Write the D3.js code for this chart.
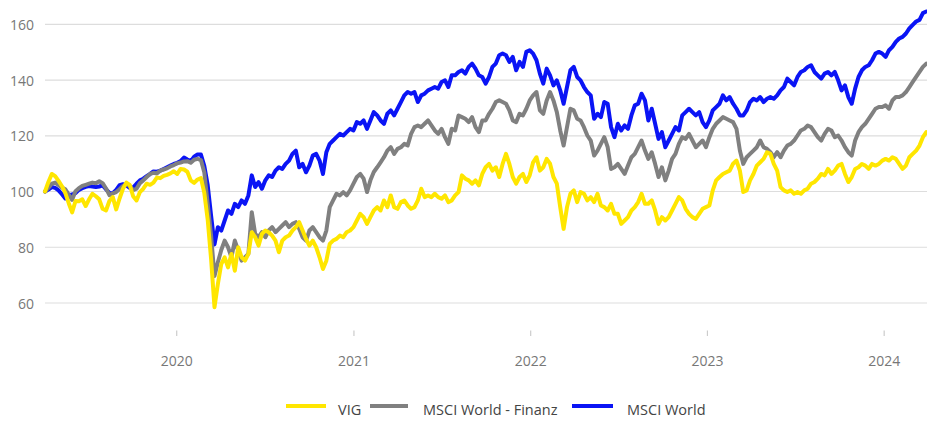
<!DOCTYPE html>
<html>
<head>
<meta charset="utf-8">
<script src="https://cdn.jsdelivr.net/npm/d3@7"></script>
<style>
  html, body { margin: 0; padding: 0; background: #fff; }
  svg { display: block; font-family: "Open Sans", sans-serif; }
</style>
</head>
<body>
<svg id="chart" width="927" height="421"></svg>
<script>
// Weekly observations, indexed from 2019-04-04 (index = 100)
const firstWeek = "2019-04-04";
const seriesNames = ["VIG", "MSCI World - Finanz", "MSCI World"];
const seriesColors = ["#ffe600", "#808080", "#0a14f5"];
const yTicks = [60, 80, 100, 120, 140, 160];
const xTickYears = [2020, 2021, 2022, 2023, 2024];

const vig = [
  100, 103.4, 106.3, 105.5, 103.8, 101.9, 99.4, 95.8, 92.5, 96.6,
  96.5, 97.2, 94.8, 97.2, 99.2, 98.3, 97.2, 93.8, 93.2, 96.6,
  98, 93.6, 97.5, 101, 103.2, 102.4, 98.3, 96.8, 99.8, 101,
  102.8, 102.4, 103.2, 105, 104.8, 105.6, 106, 106.5, 107.3, 106.3,
  108.1, 107.9, 107.1, 104, 103.1, 104.3, 104.8, 99.5, 89.9, 75.8,
  58.5, 66.8,
  74, 76.4, 72.8, 77.6, 71.6, 80, 76.4, 75.2, 77.6,
  85.4, 83.6, 80.6, 84.8, 86, 85.4, 84.2, 82.4, 78.2, 82.4, 83.6, 84.2, 86, 87.2, 89, 86, 83, 80.6, 82.4, 80,
  76.4, 72.2, 75.2, 81.2, 82.4, 83, 84.2, 83.6, 85.4, 86, 87.2, 89.6, 92, 90.8, 88.4, 90.8, 93.2, 94.4, 93.2, 96.8,
  94.4, 98.6, 94.4, 93.8, 96.2, 96.8,
  95, 93.8, 94.4, 96.8, 101, 98, 98.6, 98, 99.2, 98, 97.4, 98.6,
  96.2, 96.8, 98.6, 99.8, 105.8, 104.6, 104, 102.8, 104, 102.2, 106.3, 108.7, 109.9, 107.5, 108.7, 105.2, 109.9, 113.5,
  109.9, 105.2, 102.8, 105.2, 106.3, 103.4, 105.8, 110.5, 112.3, 107.5, 108.7, 111.7, 110, 105.2, 102.8, 94.4, 86.6,
  94.4, 99.2, 100.4, 96.2, 99.8, 99.2,
  96.8, 98, 96.2, 99.2, 95, 94.4, 93.2, 95.6, 92, 92, 88.4, 89.6, 90.8, 93.2, 94.4, 96.2, 99.2, 95.6,
  95.6, 96.8, 93.2, 88.4, 90.8, 89.6, 90.8, 93.2, 95.6, 98, 96.8, 93.8, 92, 90.8, 90.2, 92, 93.8, 94.4, 95, 100.4,
  104, 105.2, 106.3, 106.9, 107.5, 110, 111.1, 107.5, 99.8, 100.4, 104, 106.3, 109.3, 110.5, 111.7,
  114.1, 113.5, 109.9, 107.5, 101.6, 100.4, 99.8, 100.4, 99.2, 99.8, 99.2, 100.4, 101, 102.8, 103.4, 104.6, 106.3,
  105.8, 108.1, 106.3, 107.5, 109.3, 109.9, 106.3,
  103.4, 105.2, 108.1, 108.7, 109.9, 109.3, 108.1, 109.9, 109.3, 109.9, 111.1, 111.7, 111.1, 112.3, 111.7, 109.9,
  108.1, 109.3, 112.3, 113.5, 114.7, 116.5, 119.5, 121.3
];

const msciFinanz = [
  100, 101.3, 102.8, 103.2, 102.3, 101.4, 100.8, 98.9, 97, 100.1,
  101.2, 102, 102.4, 102.8, 103.2, 103, 103.7, 103, 101.1, 98.7,
  99.3, 99.8, 100.8, 102, 102.6, 102, 100.5, 101, 103, 104,
  105.2, 106.3, 106.7, 106.5, 107.5, 107.9, 108.3, 109, 109.5, 110.1,
  110.4, 110.8, 110.9, 110.3, 111.4, 111.7, 111.3, 106.8, 95.6, 84.1,
  69.7, 74.6,
  79, 82.4, 80, 76.4, 82.4, 78.8, 75.2, 76.4, 77.6,
  92.6, 84.8, 83.6, 85.4, 83.6, 86, 87.2, 85.4, 86.6, 87.8, 89, 87.2, 88.4, 89, 86.6, 83.6, 82.4, 86, 87.2, 85.4,
  83.6, 82.4, 86, 94.4, 96.8, 99.2, 98.6, 99.8, 98.6, 100.4, 102.8, 105.2, 106.3, 104.6, 99.8, 104, 107, 108.7, 110.5,
  112.3, 114.7, 115.9, 113.5, 115.3, 115.9, 117.1,
  116.5, 120.7, 123.1, 123.7, 123.1, 124.3, 125.5, 123.7, 121.9, 120.7, 122.5, 119.5,
  117.1, 122.5, 121.9, 127.3, 126.7, 126.1, 124.9, 126.7, 123.1, 121.3, 125.5, 125.5, 127.9, 129.7, 132.1, 132.7,
  132.1, 131.5, 129.1, 125.5, 124.9, 127.9, 127.3, 129.7, 132.7, 134.5, 135.7, 129.1, 127.9, 132.7, 135.7, 132.7,
  128.5, 121.9, 116.5, 123.1, 129.7, 129.1, 126.1, 125.5, 123.1,
  120.1, 118.3, 112.9, 114.7, 117.1, 119.5, 115.9, 108.1, 108.7, 109.9, 108.1, 106.3, 109.3, 112.3, 113.5, 115.9,
  118.3, 114.7,
  111.7, 114.1, 109.9, 105.2, 108.7, 104, 107.5, 111.7, 113.5, 117.1, 119.5, 118.9, 120.7, 118.3, 115.9, 117.1,
  118.3, 115.9, 119.5, 122.5, 124.3, 125.5, 126.7, 126.1, 125.5, 124.9, 122.5, 114.7, 109.9, 112.3, 113.5, 114.7,
  115.9, 118.3, 115.9,
  115.3, 114.1, 112.3, 114.1, 112.3, 114.7, 116.5, 117.1, 118.3, 120.1, 121.9, 122.5, 123.7, 123.1, 121.3, 119.5,
  118.3, 120.7, 122.5, 121.9, 119.5, 120.1, 118.3, 115.9,
  114.1, 112.9, 118.3, 121.3, 123.1, 124.3, 126.1, 127.9, 129.7, 130.3, 130.3, 130.9, 129.7, 132.7, 133.9, 133.9,
  134.5, 135.7, 137.5, 139.3, 141.1, 142.9, 144.7, 145.9
];

const msciWorld = [
  100, 100.7, 101.6, 101.3, 100.4, 99, 97.5, 98.7, 98.9, 99.4,
  100.6, 101.2, 101.7, 102, 101.8, 101.6, 101.8, 102.2, 100.8, 99.5,
  99.4, 100.6, 102.3, 102.6, 102.2, 101.3, 101.4, 102.8, 104, 104.6,
  105.5, 106.3, 107.2, 107.1, 107.5, 108.1, 108.7, 109.3, 109.9, 110.3,
  110.9, 112.2, 111.5, 110.9, 112.5, 113.3, 113.3, 109.1, 102.3, 91.3,
  81, 87.2,
  86, 89.6, 93.2, 92, 95.6, 94.4, 96.8, 95.6, 98.6,
  105.8, 101.6, 103.4, 101, 104, 105.8, 105.2, 107.5, 108.7, 108.1, 109.9, 111.1, 113.5, 114.7, 108.7, 109.9,
  106.9, 109.3, 112.9, 113.5, 111.1, 106.3, 114.1, 117.1, 118.3, 119.5, 120.7, 120.1, 121.3, 122.5, 121.9, 124.9,
  124.3, 125.5, 122.5, 125.5, 128.5, 127.3, 125.5, 124.3, 127.9, 129.1, 127.3, 129.7, 132.1, 134.5,
  135.7, 135.1, 135.7, 132.1, 134.5, 135.1, 136.3, 136.9, 137.5, 136.9, 139.3, 139.9,
  137.5, 141.7, 141.7, 142.9, 143.5, 142.3, 144.7, 145.9, 144.1, 141.7, 141.1, 138.7, 141.1, 144.7, 145.9, 148.9,
  149.5, 148.9, 146.5, 148.3, 143.5, 146.5, 144.7, 150.1, 150.7, 149.5, 147.1, 142.3, 138.7, 144.1, 141.7, 138.1,
  139.9, 136.3, 131.5, 137.5, 143.5, 144.7, 141.1, 139.9, 137.5,
  135.7, 134.5, 126.1, 127.9, 126.7, 132.1, 131.5, 123.1, 119.5, 124.3, 121.9, 123.7, 122.5, 127.3, 130.9, 131.5,
  135.1, 132.7,
  125.5, 129.7, 124.3, 118.9, 121.3, 115.9, 118.3, 120.7, 123.1, 121.9, 127.3, 128.5, 129.7, 128.5, 127.3, 128.5,
  124.9, 123.1, 125.5, 129.1, 130.3, 131.5, 134.5, 132.7, 133.9, 131.5, 129.7, 127.3, 127.3, 129.1, 132.1, 133.3,
  132.7, 133.9, 132.1,
  133.3, 133.9, 133.3, 134.5, 136.3, 137.5, 140.5, 139.3, 138.1, 141.1, 142.9, 143.5, 144.7, 145.3, 142.9, 141.7,
  140.5, 142.3, 142.9, 141.7, 142.9, 139.9, 136.3, 138.1,
  133.9, 131.5, 136.9, 141.1, 143.5, 144.7, 145.3, 147.1, 149.5, 150.1, 149.5, 148.3, 150.7, 151.9, 153.7, 154.9,
  155.5, 156.7, 158.5, 159.8, 161, 161.6, 164, 164.6
];

const seriesValues = [vig, msciFinanz, msciWorld];

(function draw() {
  const svg = d3.select("#chart");
  const parse = d3.timeParse("%Y-%m-%d");
  const start = parse(firstWeek);
  const dates = vig.map((_, i) => d3.timeDay.offset(start, 7 * i));

  const plotLeft = 45, plotRight = 926.3, plotTop = 24.3, plotBottom = 303;
  const x = d3.scaleTime().domain([dates[0], dates[dates.length - 1]]).range([plotLeft, plotRight]);
  const y = d3.scaleLinear().domain([60, 160]).range([plotBottom, plotTop]);

  // gridlines
  svg.append("g").selectAll("line").data(yTicks).join("line")
    .attr("x1", plotLeft).attr("x2", 927)
    .attr("y1", d => y(d)).attr("y2", d => y(d))
    .attr("stroke", "#dddddd").attr("stroke-width", 1.2);

  // y labels
  svg.append("g").selectAll("text").data(yTicks).join("text")
    .attr("x", 34).attr("y", d => y(d))
    .attr("text-anchor", "end").attr("dominant-baseline", "central")
    .attr("fill", "#777").attr("font-size", 14)
    .text(d => d);

  // x ticks & labels
  const yearDates = xTickYears.map(yr => new Date(yr, 0, 1));
  svg.append("g").selectAll("line").data(yearDates).join("line")
    .attr("x1", d => x(d)).attr("x2", d => x(d))
    .attr("y1", 330.5).attr("y2", 336)
    .attr("stroke", "#cccccc").attr("stroke-width", 1.2);
  svg.append("g").selectAll("text").data(yearDates).join("text")
    .attr("x", d => x(d)).attr("y", 366)
    .attr("text-anchor", "middle")
    .attr("fill", "#777").attr("font-size", 14)
    .text(d => d3.timeFormat("%Y")(d));

  // lines (blue bottom, yellow on top)
  const line = d3.line().x((d, i) => x(dates[i])).y(d => y(d)).curve(d3.curveLinear);
  [2, 1, 0].forEach(k => {
    svg.append("path")
      .datum(seriesValues[k])
      .attr("d", line)
      .attr("fill", "none")
      .attr("stroke", seriesColors[k])
      .attr("stroke-width", 4)
      .attr("stroke-linejoin", "round")
      .attr("stroke-linecap", "round");
  });

  // legend
  const legendItems = [
    { x1: 286, x2: 326, tx: 338 },
    { x1: 370, x2: 408, tx: 423 },
    { x1: 572, x2: 613, tx: 627 }
  ];
  const lg = svg.append("g");
  legendItems.forEach((it, k) => {
    lg.append("line").attr("x1", it.x1).attr("x2", it.x2).attr("y1", 406).attr("y2", 406)
      .attr("stroke", seriesColors[k]).attr("stroke-width", 3.8);
    lg.append("text").attr("x", it.tx).attr("y", 415)
      .attr("fill", "#444").attr("font-size", 14.5)
      .text(seriesNames[k]);
  });
})();
</script>
</body>
</html>
